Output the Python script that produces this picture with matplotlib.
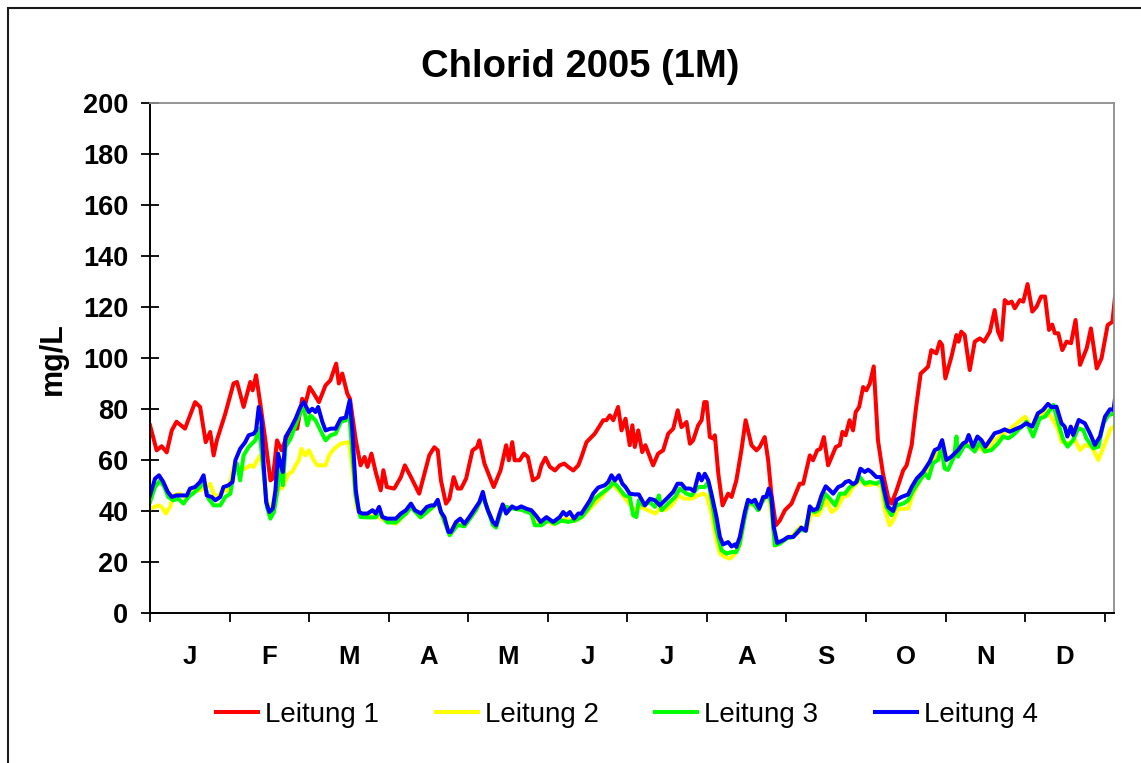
import matplotlib
matplotlib.use('Agg')
import matplotlib.pyplot as plt
from matplotlib.patches import Rectangle

plt.rcParams['font.family'] = ['Liberation Sans', 'DejaVu Sans']

# daily index of year 2005 (0 = 1 Jan), values in mg/L
l1_days = [0, 2.5, 4.4, 6.3, 8.2, 10, 13.2, 15.1, 17, 18.9, 21, 22.7, 24, 25.2, 28.4, 31.5, 32.8, 35.3, 37.8, 38.7,
           40, 41.6, 43.5, 45.4, 46.3, 47.9, 49.6, 51, 53, 55.5, 57.4, 58.6, 60.2, 61.8, 63.7, 66.2, 68, 70.2, 71.2, 72.5,
           74.4, 75.4, 77.6, 79.4, 80.9, 82, 83.5, 85.1, 87, 88, 89.3, 92.1, 94.6, 96.1, 98.4, 101.5, 105.3, 107.2, 108.5, 109.7,
           111.6, 112.9, 114.5, 116, 117.3, 119.2, 121.6, 123.3, 124.2, 126.1, 129.6, 132.2, 134.3, 135.3, 136.6, 137.5, 139.4, 141, 142.5, 144.4,
           146.4, 147.6, 149.1, 150.8, 152.7, 154.5, 156.2, 157.7, 159.6, 161.5, 162.7, 164.6, 167.7, 170.9, 172.1, 173.4, 174.7, 176.5, 177.8, 179.3,
           180.9, 181.9, 182.8, 184.1, 185.6, 186.8, 189.7, 191.6, 193.5, 195.4, 197.3, 199, 200.4, 202.3, 203.6, 204.8, 206.7, 208, 209, 209.9,
           211.1, 212.4, 213, 214.3, 215.9, 218, 219.3, 221.1, 223, 224.6, 226.8, 228.7, 229.9, 231.8, 233.1, 234.3, 236, 237.5, 239.4, 241.9,
           245, 246.3, 248.8, 250, 251.6, 252.8, 254.1, 255.7, 258.6, 260.1, 261.1, 262.3, 263.8, 265.1, 266.1, 267.4, 268.9, 270.1, 271.4, 272.9,
           274.5, 276.4, 278.3, 279.6, 281.5, 284, 285.3, 287.2, 288.8, 290.6, 292.1, 293.4, 294.6, 296.5, 297.8, 298.7, 299.9, 302.2, 304.1, 304.9,
           305.9, 307.2, 309.1, 311, 312.9, 314.5, 316.7, 318.5, 319.8, 321.1, 322.3, 323.6, 324.9, 326.1, 328, 329.3, 330.9, 332.7, 334.3, 336,
           337.5, 339, 340.2, 341.2, 342.5, 344, 345.6, 347.3, 349, 350.7, 353.2, 354.8, 357, 358.8, 361.1, 362.9, 363.9]
l1_vals = [73.6, 63.8, 65.4, 63, 71.6, 75, 72.3, 77.5, 82.7, 80.8, 67, 71, 61.8, 67.7, 78.2, 90, 90.6, 80.8, 90.6, 87.3,
           93.2, 82, 67.7, 52, 52.7, 67.7, 63.8, 67.7, 72.3, 72.3, 84, 82, 88.6, 86, 82.7, 89.3, 91.2, 97.8, 90, 93.9,
           86, 84, 67.7, 57.9, 61.2, 57.3, 62.5, 55.3, 48.1, 56, 49.4, 48.8, 53.3, 57.9, 53.3, 46.8, 61.8, 65, 63.8, 52,
           42.9, 44.8, 53.3, 48.8, 48.8, 52.7, 63.8, 65, 67.7, 58.6, 49.4, 56, 65.8, 59.9, 67, 59.9, 59.9, 62.5, 61.2, 52,
           53.3, 57.9, 60.9, 57.3, 55.9, 57.9, 58.6, 57.3, 55.9, 57.9, 61.2, 67, 70.3, 75.6, 75.6, 77.5, 75.6, 80.8, 71.6, 76.2,
           65.8, 73.6, 65.1, 71.6, 63.1, 65.8, 57.9, 62.5, 63.8, 70.3, 72.3, 79.5, 72.9, 74.9, 66.4, 67.7, 73.6, 75.6, 82.7, 82.7,
           69, 68.4, 69.7, 54.6, 42.2, 46.8, 45.5, 52, 63.8, 75.6, 65.8, 63.8, 65.1, 69, 59.9, 46.8, 34.4, 36.3, 40.3, 42.9,
           50.7, 50.7, 61.8, 59.9, 63.8, 64.4, 69, 57.9, 65.1, 65.8, 71, 69.7, 75.6, 71.6, 78.8, 80.8, 88.6, 87.3, 89.9, 96.7,
           67.7, 54.6, 45.5, 42.9, 48.1, 55.9, 57.9, 65.8, 80.1, 93.9, 95.3, 96.6, 103.1, 101.8, 106.4, 105.1, 92, 100.5, 109, 106.4,
           110.3, 109, 95.3, 106.4, 107.7, 106.4, 110.3, 118.8, 110.3, 107.1, 122.7, 121.4, 122.1, 119.5, 122.7, 122.1, 129, 118.2, 120.1, 124.1,
           124.1, 111, 113.1, 109.7, 109.7, 103.1, 106.4, 105.8, 114.9, 97.3, 103.8, 111.6, 95.9, 99.9, 112.9, 114.2, 124.1]

l2_days = [0, 3.2, 4.4, 5.9, 7.6, 8.8, 11.3, 13.2, 15.8, 18.3, 20.8, 22.7, 24, 25.2, 27.1, 29, 30.3, 31.5, 32.8, 35.9,
           37.8, 39.1, 40.4, 41.6, 42.9, 44.1, 45.4, 46.7, 47.9, 48.5, 49.8, 51.1, 52.3, 53.6, 54.9, 56.1, 57.1, 58.6, 59.9, 61.8,
           63.1, 66.2, 67.5, 69.4, 71.9, 75, 76.3, 77.9, 79.4, 82, 85.1, 89.5, 92.7, 96.5, 98.4, 102, 106, 108.5, 111, 113,
           116, 118.6, 123, 125.5, 129.3, 130.5, 133, 136.5, 140, 143.8, 147, 150, 152, 157, 160, 162.7, 165, 167.7, 170.2, 174,
           177.2, 179.7, 182.8, 185.3, 187.8, 190.6, 192.2, 194.2, 196.7, 199.2, 201.6, 204.2, 206.7, 208.6, 209.9, 211.7, 213.6, 214.9, 216.8, 218.6,
           220, 222.4, 224.9, 226.8, 229.3, 231.2, 233.1, 234.3, 235.6, 238.7, 242.5, 245, 247.6, 249.4, 251.9, 255.1, 257, 258.9, 261.4, 263.2,
           265.1, 267.7, 270.1, 273.9, 275.8, 277.1, 278.9, 280.2, 282.1, 285.9, 287.8, 290.3, 292.1, 294.6, 297.1, 299.6, 302.2, 304.7, 307.2, 309.7,
           312.2, 314.8, 318.5, 322.3, 326.1, 329.9, 332.4, 335.5, 338, 340.5, 342.5, 343.7, 346.3, 348.8, 350.7, 352.6, 355.1, 357.6, 360.1, 362,
           363.9]
l2_vals = [40.9, 42.2, 41.6, 39, 41.6, 46.1, 46.8, 45.5, 47.5, 48.1, 48.8, 50.7, 46.8, 45.5, 47.5, 48.1, 52, 57.3, 56.6, 56.6,
           57.9, 57.3, 59.9, 61.8, 55.9, 43.5, 40.9, 44.2, 46.8, 49.4, 48.8, 52, 54.6, 55.3, 57.9, 59.9, 64.4, 61.8, 63.8, 59.9,
           57.9, 57.9, 61.8, 64.4, 66.4, 67, 57.3, 41.6, 38.3, 38, 38, 36, 35, 39, 41.5, 37.5, 41, 43, 35.5, 31,
           35, 34.5, 40.5, 46, 35, 34, 41.5, 41, 40.5, 39.5, 35, 36, 34.8, 37, 36, 37.5, 40, 42.9, 45.5, 50.7,
           47.5, 44.2, 40.3, 41.6, 40.3, 39, 40.9, 40.3, 42.2, 46.1, 44.8, 44.8, 46.1, 46.8, 46.1, 39, 28.5, 23.3, 22, 21.3,
           22.5, 26.5, 41.6, 42.9, 41.6, 44.2, 46.8, 39, 26.5, 28.5, 30.5, 33.7, 32.4, 39, 38.3, 44.2, 39.6, 40.9, 45.5, 46.1,
           49.4, 52, 50.1, 50.7, 49.4, 40.3, 34.4, 36.3, 40.9, 40.9, 46.8, 52, 55, 58.7, 63.3, 60.7, 60, 65.2, 66.5, 65.9,
           65.2, 63.3, 67.8, 70.5, 73.7, 77, 73.1, 77, 79.6, 75.7, 71.8, 67.2, 66.5, 67.8, 63.9, 65.9, 65.2, 60, 66.5, 71.8,
           73.7]

l3_days = [0, 1.9, 3.8, 5.4, 6.9, 8.8, 10.7, 12.6, 14.5, 17, 18.9, 20.2, 22.1, 24, 26.5, 28.4, 30.3, 31.5, 32.8, 34,
           35.3, 37.2, 39.7, 41.2, 42.9, 44.1, 45.4, 46.7, 47.9, 49.2, 50.1, 51.1, 53, 54.9, 56.7, 58, 59.3, 60.5, 62.4, 64.3,
           66.2, 68.1, 70, 71.9, 73.8, 75, 77.6, 79.4, 82, 85.1, 86.4, 89.5, 92.7, 96.5, 98.4, 102, 106, 108.5, 111, 113,
           116, 118.6, 123, 125.5, 129.3, 130.5, 133, 136.5, 140, 143.8, 145.1, 147.6, 150.1, 152.7, 155.2, 157.7, 160.2, 162.7, 165.2, 167.7,
           170.2, 173.4, 174.7, 176.5, 179, 180.9, 182.2, 183.4, 184.3, 186, 188.5, 190.4, 191.9, 192.9, 195.4, 198, 199.8, 202.3, 204.2, 206.7,
           209.2, 210.5, 211.7, 213.6, 215.5, 217.4, 219.3, 221.1, 222.4, 224.3, 225.5, 227.4, 229.3, 231.2, 233.1, 234.3, 235.6, 237.5, 240, 242.5,
           244.4, 246.9, 248.8, 250.7, 252.6, 254.5, 256.4, 258.3, 260.1, 262, 263.9, 265.7, 267.7, 269.5, 271.4, 273.9, 275.8, 277.7, 279.6, 281.5,
           284, 285.9, 287.8, 290.3, 292.1, 293.6, 295.2, 297.1, 298.4, 299.6, 300.9, 303.2, 304.1, 304.7, 307.2, 309.1, 311, 312.9, 314.8, 317.3,
           319.8, 321.7, 323.6, 325.5, 328, 330.5, 333, 335.5, 337.5, 339.3, 340.6, 342.5, 344.4, 346, 348.1, 350, 351.9, 353.1, 355.7, 357.6,
           359.5, 361.4, 363.9]
l3_vals = [43.5, 49.4, 52, 49.4, 45.5, 44.2, 44.8, 42.9, 45.5, 47.5, 49.4, 52, 44.8, 42.2, 42.2, 45.5, 46.8, 54.6, 58.6, 52,
           61.8, 65.1, 67.7, 72.3, 54.6, 41.6, 37, 39.6, 46.8, 59.9, 50.1, 65.1, 68.4, 73.6, 78.8, 80.1, 73.6, 77.5, 75.6, 71.6,
           67.7, 69.7, 70.3, 74.9, 75.6, 80.1, 45.5, 37.6, 37.5, 37.5, 39.5, 35.5, 35.5, 39, 41.5, 37.5, 41, 43.5, 36, 30.5,
           34.5, 34, 40.5, 46, 34.5, 33.5, 42, 41, 40.5, 39, 34.4, 34.4, 36.3, 35, 36.3, 35.7, 36.3, 37.6, 40.9, 44.8,
           46.8, 49.4, 51.4, 49.4, 46.1, 45.5, 38.3, 37.6, 44.2, 42.2, 43.5, 41.6, 46.1, 40.3, 42.9, 45.5, 48.8, 46.8, 46.1, 49.4,
           49.4, 51.4, 44.8, 32.4, 24.6, 23.3, 23.9, 23.9, 27.2, 37.6, 42.9, 42.9, 40.3, 44.2, 47.5, 42.9, 26.5, 27.2, 29.2, 29.8,
           32.4, 32.4, 40.3, 39.6, 40.9, 46.8, 44.8, 42.2, 46.8, 46.8, 49.4, 50.7, 53.3, 50.7, 51.4, 50.7, 52, 41.6, 38.3, 42.2,
           42.9, 44.2, 48.1, 52, 54.8, 52.8, 58.7, 60, 64.6, 56.7, 56.1, 61.3, 69.2, 61.3, 65.9, 65.2, 63.3, 67.2, 63.3, 63.9,
           66.5, 69.2, 68.5, 69.8, 72.4, 75, 69.2, 76.3, 77, 79.6, 81.6, 74.4, 67.8, 65.2, 67.8, 72.4, 71.8, 68.5, 64.6, 65.2,
           74.4, 77.6, 78.3]

l4_days = [0, 1.9, 3.4, 5, 6.7, 8.2, 10, 13.9, 15.1, 17, 18.9, 20.2, 21.4, 23.3, 24.6, 26.5, 27.7, 29.6, 31.1, 32.2,
           34, 35.9, 37.2, 39.1, 40, 41, 42, 42.9, 43.8, 45, 46.3, 47.3, 48.3, 49.2, 50.1, 51.1, 53, 54.9, 56.7, 58,
           59.9, 61.2, 62.4, 63.4, 65, 66.2, 68.1, 70, 71.9, 73.8, 75.3, 76.3, 77.6, 78.8, 80.1, 82, 83.9, 85.1, 86.4, 87.6,
           89.5, 92.7, 94.6, 96.5, 98.4, 99.9, 102.2, 104.4, 106, 107.2, 108.5, 109.7, 111, 112.5, 113.5, 115.4, 117, 118.6, 120.4, 123,
           124.2, 125.5, 126.4, 127.4, 129.3, 130.5, 131.8, 133, 134.3, 136.5, 138.1, 140, 141.9, 143.8, 145.7, 147.3, 149.5, 152, 154.5, 155.8,
           157, 158.3, 159.9, 161.5, 162.7, 164.3, 165.9, 167.1, 169, 171.5, 172.8, 174, 175.3, 176.8, 178.1, 179.3, 180.9, 182.8, 184.3, 186.6,
           188.5, 190.4, 192.2, 194.8, 197.3, 198.9, 200.4, 201.9, 203.6, 205.2, 206.9, 208, 209.2, 210.5, 211.7, 213.6, 214.9, 216.1, 218, 219.3,
           220.6, 221.1, 222.4, 224.3, 225.5, 226.8, 228.1, 229.7, 231.2, 232.4, 233.3, 234.3, 235.2, 236.5, 238.7, 240.6, 242.5, 244.4, 245.6, 247.3,
           248.8, 250, 251.6, 253.2, 254.8, 256.4, 257.6, 259.5, 261.1, 262.3, 263.6, 265.1, 266.4, 267.9, 269.5, 270.8, 272, 273.9, 275.8, 277.1,
           278.3, 280.2, 281.5, 283.4, 285.9, 287.2, 289.1, 291.5, 294, 295.9, 297.4, 298.7, 300.3, 302.2, 304.7, 306.6, 307.8, 308.7, 310.3, 312,
           313.5, 315, 316.7, 318.5, 320.4, 322.3, 324.2, 326.1, 328.6, 330.5, 332.7, 334.8, 336.7, 338.6, 339.9, 341.8, 343.7, 344.9, 345.9, 347.2,
           348.1, 350.2, 352.5, 354.4, 356.3, 358.2, 360.1, 362, 363.3, 363.9]
l4_vals = [46.1, 52.7, 54, 51.4, 47.5, 45.5, 46.1, 46.1, 48.8, 49.4, 51.4, 54, 46.1, 45.5, 44.2, 45.5, 49.4, 50.1, 51.4, 59.9,
           64.4, 67, 69.7, 70.3, 71.6, 80.8, 75.6, 57.3, 43.5, 39.6, 40.9, 48.1, 62.5, 58.6, 55.3, 69, 72.3, 76.2, 80.8, 82.7,
           78.8, 80.1, 78.8, 80.8, 74.9, 71.6, 72.3, 72.3, 76.2, 76.6, 83.4, 71.6, 48.1, 39.6, 39, 39, 40.3, 39, 41.6, 37.6,
           37, 37, 39, 40.3, 42.9, 40.3, 39, 41.6, 42.2, 42.2, 44.4, 39.6, 37.6, 31.8, 31.8, 35.7, 37, 35, 37.6, 41.6,
           43.5, 47.5, 43.5, 40.3, 35.7, 34.4, 39, 42.6, 39, 41.8, 40.9, 41.8, 40.9, 40.3, 38, 35.7, 37.6, 35.7, 37.6, 39.6,
           38.3, 39.6, 37, 39, 39, 41.6, 44.2, 46.8, 49.2, 50.1, 51.4, 54, 52, 54, 50.7, 49.4, 46.8, 46.5, 46.5, 42.2,
           44.8, 44.2, 42.2, 44.8, 47.5, 50.7, 50.7, 48.8, 48.8, 47.8, 54.6, 52, 54.6, 52, 46.8, 37.6, 29.8, 26.9, 27.8, 26.1,
           26.9, 25.9, 29.8, 39.6, 44.4, 43.5, 44.4, 40.9, 45.5, 45.5, 48.8, 45.5, 33.7, 27.5, 28.5, 29.8, 29.8, 31.8, 33.5, 32.2,
           41.8, 40.3, 40.9, 46.1, 49.7, 48.1, 46.8, 49.4, 50.1, 51.4, 51.8, 50.5, 51.4, 56.6, 55.3, 56.2, 55.3, 53.3, 53.3, 46.8,
           41.6, 40, 44.4, 45.5, 46.5, 49.4, 52.7, 55.3, 59.3, 63.9, 64.6, 67.8, 60, 61.3, 63.9, 66.5, 67.2, 69.8, 65.2, 69.2,
           67.8, 65.2, 67.8, 70.5, 71.1, 72, 71.1, 72, 73.1, 74.4, 73.1, 78.3, 79.6, 82, 80.7, 80.9, 74.4, 73.1, 69.2, 73.1,
           69.8, 75.7, 74.4, 70.5, 65.9, 69.2, 77, 79.9, 79.6, 84.2]

series_names = ['Leitung 1', 'Leitung 2', 'Leitung 3', 'Leitung 4']
series_colors = ['#ff0000', '#ffff00', '#00ff00', '#0000ff']
month_labels = ['J', 'F', 'M', 'A', 'M', 'J', 'J', 'A', 'S', 'O', 'N', 'D']
y_ticks = [0, 20, 40, 60, 80, 100, 120, 140, 160, 180, 200]

W, H = 1141, 763
fig = plt.figure(figsize=(W / 100, H / 100), dpi=100)
ax = fig.add_axes([150 / W, 150 / H, 964 / W, 510 / H])

all_days = [l1_days, l2_days, l3_days, l4_days]
all_vals = [l1_vals, l2_vals, l3_vals, l4_vals]
for days, vals, name, col in zip(all_days, all_vals, series_names, series_colors):
    ax.plot(days, vals, color=col, lw=2.9, label=name, solid_joinstyle='round')

ax.set_xlim(0, 363.5)
ax.set_ylim(0, 200)

# month boundaries every 30 points, labels in between
ax.set_xticks([30 * i for i in range(13)])
ax.set_xticklabels([])
ax.set_xticks([30 * i + 15 for i in range(12)], minor=True)
ax.set_xticklabels(month_labels, minor=True, fontsize=18.5, fontweight='bold')
ax.tick_params(axis='x', which='major', direction='out', length=6.5, width=1.3, color='black')
ax.tick_params(axis='x', which='minor', length=0, pad=23)

ax.set_yticks(y_ticks)
ax.set_yticklabels([str(v) for v in y_ticks], fontsize=19.5, fontweight='bold')
ax.tick_params(axis='y', direction='inout', length=13, width=1.3, pad=9)

for side in ['left', 'bottom']:
    ax.spines[side].set_color('black')
    ax.spines[side].set_linewidth(1.4)
for side in ['top', 'right']:
    ax.spines[side].set_color('#8c8c8c')
    ax.spines[side].set_linewidth(1.3)

fig.text(580 / W, 1 - 77 / H, 'Chlorid 2005 (1M)', fontsize=27.5, fontweight='bold',
         ha='center', va='baseline')
fig.text(53 / W, 1 - 359 / H, 'mg/L', fontsize=22, fontweight='bold', rotation=90,
         ha='center', va='center')

fig.legend(loc='center', bbox_to_anchor=(627 / W, 1 - 715 / H), ncol=4, frameon=False,
           fontsize=20, handlelength=1.5, handletextpad=0.25, columnspacing=2.05)

# outer chart frame
fig.patches.append(Rectangle((8 / W, -0.1), 1.2, 1.1 - 8 / H, transform=fig.transFigure,
                             fill=False, edgecolor='#1a1a1a', lw=1.5))

fig.savefig('out.png', dpi=100)
